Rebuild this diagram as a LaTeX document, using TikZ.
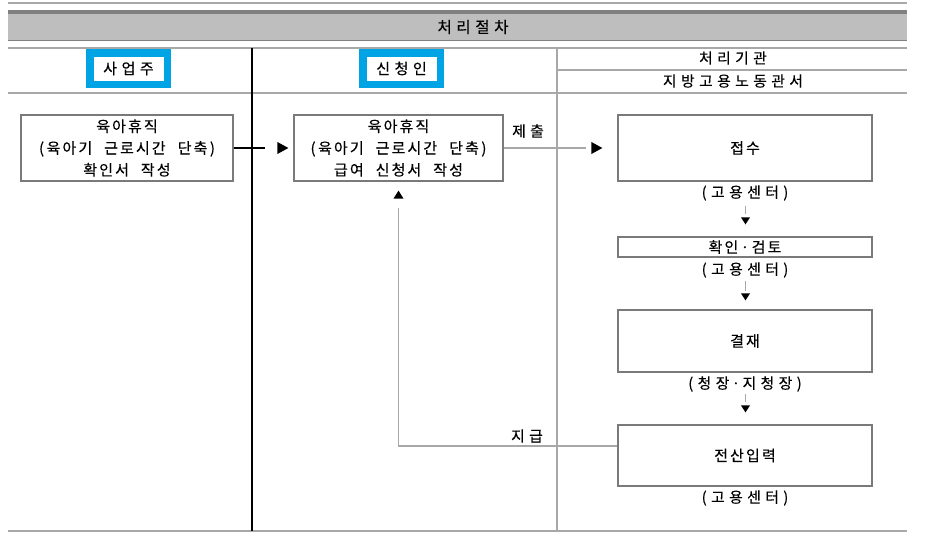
\documentclass[tikz,border=0pt]{standalone}
\usepackage{fontspec}
\newfontfamily\kr[LetterSpace=14,FakeBold=0.3]{Noto Sans CJK KR}
\newfontfamily\krw[LetterSpace=30,FakeBold=0.3]{Noto Sans CJK KR}
\usetikzlibrary{calc}
\definecolor{lgray}{HTML}{A8A8A8}
\definecolor{bgray}{HTML}{7A7A7A}
\definecolor{hdr}{HTML}{BEBEBE}
\definecolor{hdrtop}{HTML}{808080}
\definecolor{blu}{HTML}{00A3E4}
\begin{document}
\begin{tikzpicture}[x=1pt,y=-1pt,
  rule/.style={draw=lgray,line width=2pt},
  box/.style={draw=bgray,line width=1.2pt,inner sep=0pt,align=center,
    font=\kr\fontsize{15}{21.8}\selectfont},
  txt/.style={inner sep=0pt,font=\kr\fontsize{15}{16}\selectfont},
  wtxt/.style={inner sep=0pt,font=\krw\fontsize{14.8}{16}\selectfont},
  bluebox/.style={draw=blu,line width=7.5pt,minimum width=77.5pt,
    minimum height=31.5pt,inner sep=0pt,font=\krw\fontsize{15}{16}\selectfont},
  tipfill/.style={fill=black},
  gline/.style={draw=lgray,line width=1.2pt},
  bline/.style={draw=black,line width=1.2pt},
  tick/.style={draw=lgray,line width=1pt}]
\useasboundingbox (0,0) rectangle (930,541);
\fill[white] (0,0) rectangle (930,541);
% header
\draw[lgray,line width=1.5pt] (8,3) -- (907,3);
\fill[hdr] (8,10) rectangle (907,41);
\fill[hdrtop] (8,10) rectangle (907,14);
\draw[hdrtop,line width=1pt] (8,40.5) -- (907,40.5);
\node[wtxt,font=\krw\fontsize{15.5}{16}\selectfont] (title) at (473,27) {처리절차};
% rules
\draw[rule] (8,48) -- (907,48);
\draw[rule] (557,70) -- (907,70);
\draw[rule] (8,92.5) -- (907,92.5);
\draw[rule] (8,531) -- (907,531);
\draw[black,line width=1.3pt] (252,48) -- (252,531);
\draw[lgray,line width=1.5pt] (557,48) -- (557,531);
% column headers
\node[bluebox] (emp) at (128.5,68.5) {사업주};
\node[bluebox] (app) at (401.5,68.5) {신청인};
\node[wtxt] (org1) at (733,58) {처리기관};
\node[wtxt] (org2) at (733,81) {지방고용노동관서};
% boxes
\node[box,minimum width=212pt,minimum height=66pt] (A) at (127,148)
  {육아휴직\\(\,육아기\hspace{0.8em}근로시간\hspace{0.8em}단축\,)\\확인서\hspace{0.8em}작성};
\node[box,minimum width=209pt,minimum height=66pt] (B) at (398.5,148)
  {육아휴직\\(\,육아기\hspace{0.8em}근로시간\hspace{0.8em}단축\,)\\급여\hspace{0.8em}신청서\hspace{0.8em}작성};
\node[box,minimum width=254pt,minimum height=66pt] (C) at (745,148) {접수};
\node[box,minimum width=254pt,minimum height=20pt] (D) at (745,247) {확인\,·\,검토};
\node[box,minimum width=254pt,minimum height=62pt] (E) at (745,341) {결재};
\node[box,minimum width=254pt,minimum height=61pt] (F) at (745,455.5) {전산입력};
% sub labels
\node[wtxt] (c1) at (745,193) {(고용센터)};
\node[wtxt] (d1) at (745,270) {(고용센터)};
\node[wtxt] (e1) at (745,384) {(청장\,·\,지청장)};
\node[wtxt] (f1) at (745,498) {(고용센터)};
% A -> B
\coordinate (ab) at ([xshift=-28pt]B.west);
\draw[bline] (A.east) -- (ab);
\fill[tipfill] ([xshift=-5pt]B.west) -- ++(-11,-6) -- ++(0,12) -- cycle;
% B -> C
\coordinate (bc) at ([xshift=-31pt]C.west);
\draw[gline] (B.east) -- (bc);
\fill[tipfill] ([xshift=-15pt]C.west) -- ++(-11,-6) -- ++(0,12) -- cycle;
\node[wtxt] (sub) at (528,131) {제출};
% C -> D -> E -> F
\draw[tick] ([xshift=0.5pt,yshift=30pt]D.north) -- ([xshift=0.5pt,yshift=22pt]D.north);
\fill[tipfill] ([xshift=0.5pt,yshift=12pt]D.north) -- ++(-4.5,-7) -- ++(9,0) -- cycle;
\draw[tick] ([xshift=0.5pt,yshift=28pt]E.north) -- ([xshift=0.5pt,yshift=18pt]E.north);
\fill[tipfill] ([xshift=0.5pt,yshift=9pt]E.north) -- ++(-4.5,-7) -- ++(9,0) -- cycle;
\draw[tick] ([xshift=0.5pt,yshift=30pt]F.north) -- ([xshift=0.5pt,yshift=22pt]F.north);
\fill[tipfill] ([xshift=0.5pt,yshift=12pt]F.north) -- ++(-4.5,-7) -- ++(9,0) -- cycle;
% F -> B
\coordinate (fb) at ([yshift=9.5pt]F.west);
\coordinate (bt) at ([yshift=-26pt]B.south);
\draw[gline] (fb) -| (bt);
\fill[tipfill] ([yshift=-9pt]B.south) -- ++(-5,8) -- ++(10,0) -- cycle;
\node[wtxt] (pay) at (527,436) {지급};
\end{tikzpicture}
\end{document}
